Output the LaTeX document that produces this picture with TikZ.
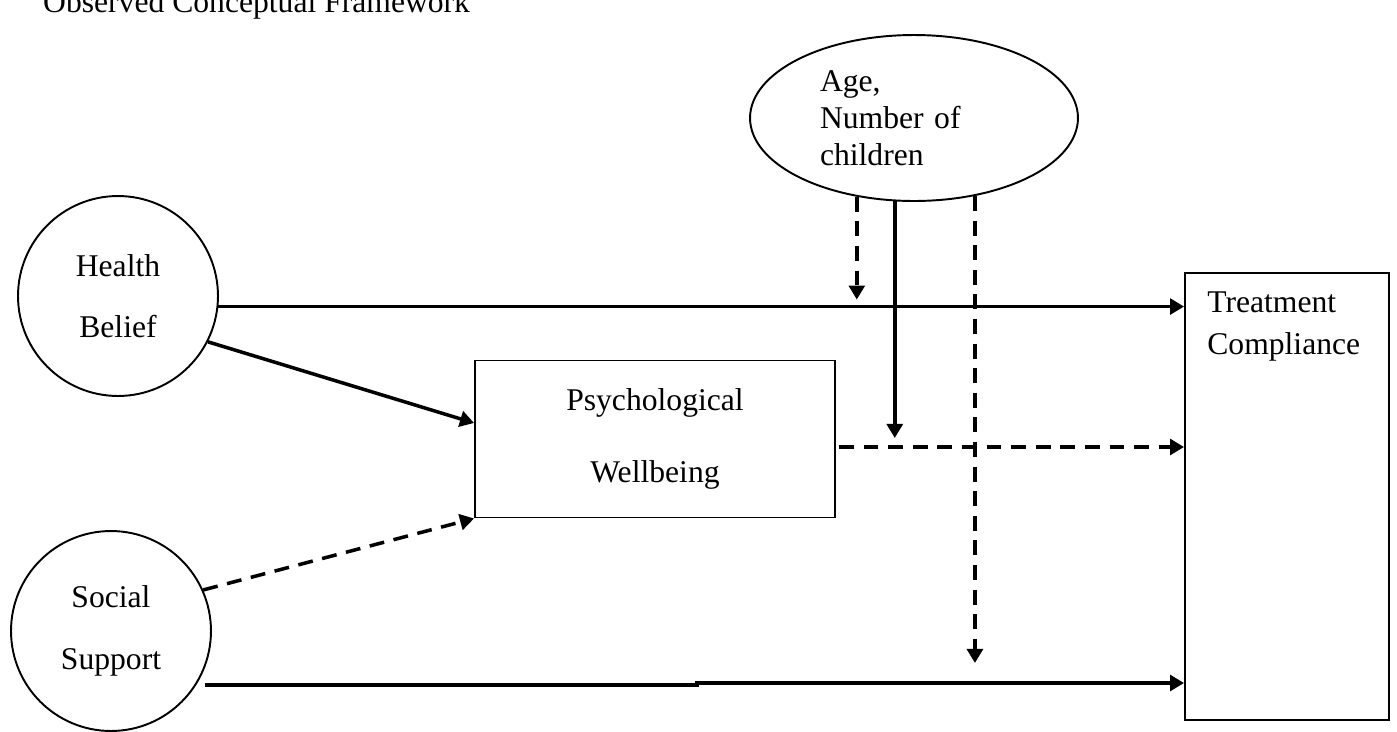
\documentclass[tikz,border=0pt]{standalone}
\usepackage{fontspec}
\setmainfont{Liberation Serif}
\usetikzlibrary{shapes.geometric,arrows.meta,calc}

\begin{document}
\begin{tikzpicture}[x=0.02cm, y=-0.02cm, font=\fontsize{18}{21}\selectfont, >={Triangle[length=8pt,width=9pt]}]
	%define block styles
	\tikzset{
		factor/.style={circle, draw=black, line width=1.1pt, minimum size=4cm, align=center, font=\fontsize{18}{35}\selectfont},
		moderator/.style={ellipse, draw=black, line width=1.1pt, minimum width=6.56cm, minimum height=3.32cm, inner sep=0pt, text width=3.76cm, align=left},
		mediator/.style={rectangle, draw=black, line width=1.1pt, minimum width=7.2cm, minimum height=3.14cm, align=center, font=\fontsize{18}{41}\selectfont},
		outcome/.style={rectangle, draw=black, line width=1.1pt, minimum width=4.08cm, minimum height=8.94cm},
		link/.style={line width=2pt, ->},
		dlink/.style={link, dash pattern=on 8.5pt off 5.5pt},
	}
	\useasboundingbox (0,0) rectangle (1397,731);
	%define nodes
	\node[anchor=base west] (title) at (37,12) {Observed Conceptual Framework};
	\node[factor] (health) at (118,296) {Health\\Belief};
	\node[factor] (social) at (111,631) {Social\\Support};
	\node[moderator] (age) at (914,118) {Age,\\Number of\\children};
	\node[mediator] (psych) at (655,439) {Psychological\\Wellbeing};
	\node[outcome] (treat) at (1287,496.5) {};
	\node[anchor=north west, inner sep=0pt, align=left, font=\fontsize{18}{24.4}\selectfont] (treatlbl) at (1207,291) {Treatment\\Compliance};
	%define helper points
	\coordinate (pw) at ($(psych.east)+(3,8)$);
	\coordinate (jog) at (697,685);
	\coordinate (jogtop) at (697,683);
	%define arrows
	\draw[link] (health.-6) -- (health.-6 -| treat.west);
	\draw[link] (health.-27) -- ([yshift=0.32cm]psych.west);
	\draw[dlink] (social.24) -- (psych.south west);
	\draw[dlink] (pw) -- (pw -| treat.west);
	\draw[link] ([xshift=-0.14cm]jog -| social.east) -- (jog) -- (jogtop) -- (jogtop -| treat.west);
	\draw[dlink] (age.234) -- ($(age.234 |- health.-6)+(0,-7)$);
	\draw[link] (age.257) -- ($(age.257 |- pw)+(0,-9)$);
	\draw[dlink] (age.308) -- ($(age.308 |- jogtop)+(0,-20)$);
\end{tikzpicture}
\end{document}
